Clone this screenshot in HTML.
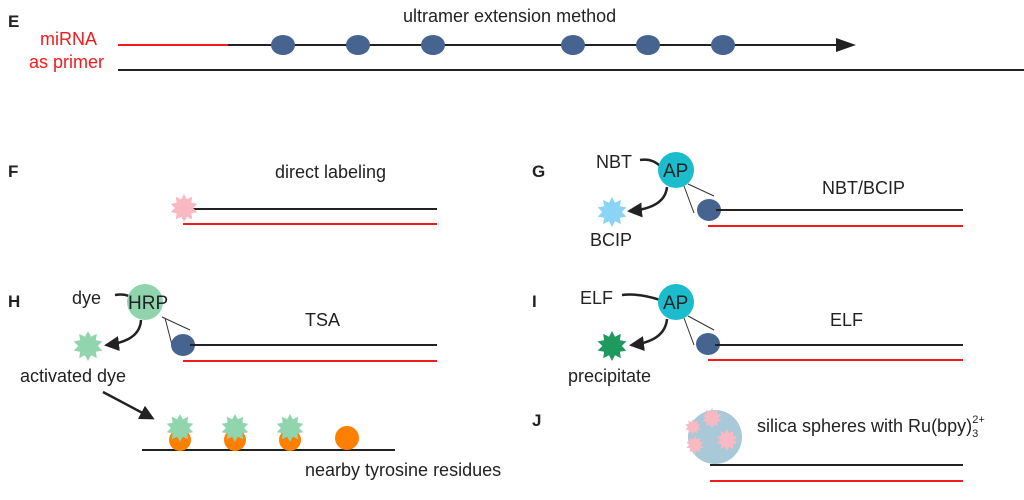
<!DOCTYPE html>
<html><head><meta charset="utf-8"><style>
html,body{margin:0;padding:0;background:#fff;}
svg{display:block;font-family:"Liberation Sans",sans-serif;}
text{fill:#222;font-size:18px;}
.b{font-weight:bold;font-size:17px;}
</style></head><body>
<svg id="s" width="1024" height="500" viewBox="0 0 1024 500" xmlns="http://www.w3.org/2000/svg">
<defs><marker id="ah" viewBox="0 0 10 10" refX="8" refY="5" markerWidth="6" markerHeight="6" orient="auto"><path d="M0,0 L10,5 L0,10 z" fill="#222"/></marker></defs>
<!-- E -->
<text x="8" y="27" class="b">E</text>
<text x="40" y="45" style="fill:#f21b1b">miRNA</text>
<text x="29" y="68" style="fill:#f21b1b">as primer</text>
<text x="403" y="22">ultramer extension method</text>
<line x1="118" y1="45" x2="228" y2="45" stroke="#f21b1b" stroke-width="2"/>
<line x1="228" y1="45" x2="840" y2="45" stroke="#222" stroke-width="2"/>
<path d="M836,38 L856,45 L836,52 z" fill="#222"/>
<line x1="118" y1="70" x2="1024" y2="70" stroke="#222" stroke-width="2"/>
<g fill="#46648f">
<ellipse cx="283" cy="45" rx="12" ry="10"/><ellipse cx="358" cy="45" rx="12" ry="10"/><ellipse cx="433" cy="45" rx="12" ry="10"/>
<ellipse cx="573" cy="45" rx="12" ry="10"/><ellipse cx="648" cy="45" rx="12" ry="10"/><ellipse cx="723" cy="45" rx="12" ry="10"/>
</g>
<!-- F -->
<text x="8" y="177" class="b">F</text>
<text x="275" y="178">direct labeling</text>
<line x1="183" y1="209" x2="437" y2="209" stroke="#222" stroke-width="2"/>
<line x1="183" y1="224" x2="437" y2="224" stroke="#f21b1b" stroke-width="2"/>
<!-- G -->
<text x="532" y="177" class="b">G</text>
<text x="596" y="168">NBT</text>
<path d="M640,160 Q652,158 660,166" stroke="#222" stroke-width="2.5" fill="none"/>
<circle cx="676" cy="170" r="18" fill="#1bbdcc"/>
<text x="663" y="177" style="font-size:19px">AP</text>
<path d="M667,187 Q665,208 630,211" stroke="#222" stroke-width="2.5" fill="none" marker-end="url(#ah)"/>
<line x1="688" y1="184" x2="714" y2="196" stroke="#333" stroke-width="1"/>
<line x1="684" y1="186" x2="694" y2="213" stroke="#333" stroke-width="1"/>
<text x="590" y="246">BCIP</text>
<ellipse cx="709" cy="210" rx="12" ry="11" fill="#46648f"/>
<line x1="716" y1="210" x2="963" y2="210" stroke="#222" stroke-width="2"/>
<line x1="708" y1="226" x2="963" y2="226" stroke="#f21b1b" stroke-width="2"/>
<text x="822" y="194">NBT/BCIP</text>
<!-- H -->
<text x="8" y="307" class="b">H</text>
<text x="72" y="304">dye</text>
<path d="M115,295 Q128,293 135,300" stroke="#222" stroke-width="2.5" fill="none"/>
<circle cx="145" cy="302" r="18" fill="#8fd4ad"/>
<text x="128" y="309" style="font-size:19px">HRP</text>
<path d="M141,320 Q140,341 107,345" stroke="#222" stroke-width="2.5" fill="none" marker-end="url(#ah)"/>
<line x1="162" y1="317" x2="190" y2="330" stroke="#333" stroke-width="1"/>
<line x1="165" y1="318" x2="172" y2="345" stroke="#333" stroke-width="1"/>
<text x="20" y="382">activated dye</text>
<ellipse cx="183" cy="345" rx="12" ry="11" fill="#46648f"/>
<line x1="190" y1="345" x2="437" y2="345" stroke="#222" stroke-width="2"/>
<line x1="183" y1="361" x2="437" y2="361" stroke="#f21b1b" stroke-width="2"/>
<text x="305" y="326">TSA</text>
<line x1="103" y1="392" x2="152" y2="418" stroke="#222" stroke-width="2.5" marker-end="url(#ah)"/>
<line x1="142" y1="450" x2="395" y2="450" stroke="#222" stroke-width="2"/>
<g fill="#ff7f00"><circle cx="180" cy="440" r="11"/><circle cx="235" cy="440" r="11"/><circle cx="290" cy="440" r="11"/><circle cx="347" cy="438" r="12"/></g>
<text x="305" y="476">nearby tyrosine residues</text>
<!-- I -->
<text x="532" y="307" class="b">I</text>
<text x="580" y="304">ELF</text>
<path d="M622,295 Q640,293 660,300" stroke="#222" stroke-width="2.5" fill="none"/>
<circle cx="676" cy="302" r="18" fill="#1bbdcc"/>
<text x="663" y="309" style="font-size:19px">AP</text>
<path d="M667,319 Q665,341 632,345" stroke="#222" stroke-width="2.5" fill="none" marker-end="url(#ah)"/>
<line x1="688" y1="316" x2="714" y2="330" stroke="#333" stroke-width="1"/>
<line x1="684" y1="318" x2="694" y2="345" stroke="#333" stroke-width="1"/>
<text x="568" y="382">precipitate</text>
<ellipse cx="708" cy="344" rx="12" ry="11" fill="#46648f"/>
<line x1="715" y1="345" x2="963" y2="345" stroke="#222" stroke-width="2"/>
<line x1="708" y1="360" x2="963" y2="360" stroke="#f21b1b" stroke-width="2"/>
<text x="830" y="326">ELF</text>
<!-- J -->
<text x="532" y="426" class="b">J</text>
<circle cx="715" cy="437" r="27" fill="#a9c8d8"/>
<g id="jst"></g>
<text x="757" y="432">silica spheres with Ru(bpy)<tspan dy="5" style="font-size:11px">3</tspan><tspan dy="-14" dx="-6" style="font-size:11px">2+</tspan></text>
<line x1="710" y1="465" x2="963" y2="465" stroke="#222" stroke-width="2"/>
<line x1="710" y1="481" x2="963" y2="481" stroke="#f21b1b" stroke-width="2"/>
</svg>
<script>
function star(cx,cy,r,col,n){n=n||10;var p=[];for(var i=0;i<2*n;i++){var a=Math.PI*i/n-Math.PI/2;var rr=i%2?r*0.65:r;p.push((cx+rr*Math.cos(a)).toFixed(1)+","+(cy+rr*Math.sin(a)).toFixed(1));}
var e=document.createElementNS("http://www.w3.org/2000/svg","polygon");e.setAttribute("points",p.join(" "));e.setAttribute("fill",col);document.getElementById("s").appendChild(e);}
star(184,208,14,"#f9b9c3");
star(612,212,15,"#8bd4f6");
star(88,346,15,"#90d5ae");
star(612,346,15,"#1f9a5f");
star(180,428,14,"#90d5ae");star(235,428,14,"#90d5ae");star(290,428,14,"#90d5ae");
star(712,418,10,"#f9b9c3");star(727,440,11,"#f9b9c3");star(693,427,8,"#f9b9c3");star(695,445,9,"#f9b9c3");
</script>
</body></html>
